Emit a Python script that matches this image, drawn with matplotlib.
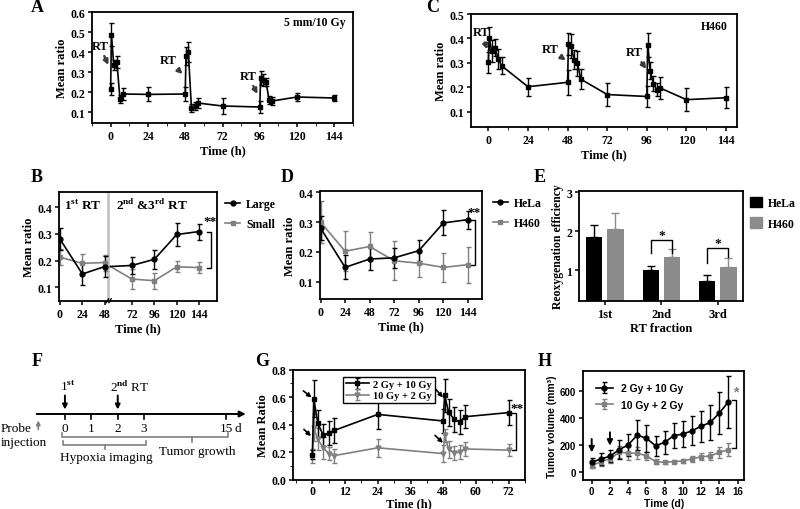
import matplotlib
matplotlib.use("Agg")
import matplotlib.pyplot as plt
from matplotlib.lines import Line2D
from matplotlib.patches import Patch
from matplotlib.ticker import MultipleLocator

plt.rcParams["font.family"] = ["Liberation Serif", "DejaVu Serif"]
plt.rcParams["font.weight"] = "bold"
plt.rcParams["axes.labelweight"] = "bold"
plt.rcParams["font.size"] = 8
plt.rcParams["xtick.labelsize"] = 8.5
plt.rcParams["ytick.labelsize"] = 8.5
plt.rcParams["axes.linewidth"] = 1.3
plt.rcParams["xtick.major.width"] = 1.1
plt.rcParams["ytick.major.width"] = 1.1
plt.rcParams["xtick.major.size"] = 3
plt.rcParams["ytick.major.size"] = 3
plt.rcParams["xtick.major.pad"] = 2
plt.rcParams["ytick.major.pad"] = 2
plt.rcParams["axes.labelpad"] = 2
plt.rcParams["mathtext.fontset"] = "custom"
plt.rcParams["mathtext.rm"] = "Liberation Serif"
plt.rcParams["mathtext.bf"] = "Liberation Serif:bold"

GRAY = "#808080"

# ---------------------------------------------------------------------------
# Data
# ---------------------------------------------------------------------------

# A: HeLa 5 mm / 10 Gy
a_time = [0, 0.5, 2, 4, 6, 8, 24, 48, 48.5, 50, 52, 54, 56, 72,
          96, 96.5, 98, 100, 102, 104, 120, 144]
a_mean = [0.215, 0.487, 0.333, 0.35, 0.167, 0.19, 0.188, 0.19, 0.38, 0.40,
          0.122, 0.13, 0.145, 0.13, 0.125, 0.268, 0.258, 0.25, 0.16, 0.155,
          0.175, 0.17]
a_err = [0.03, 0.058, 0.025, 0.03, 0.02, 0.03, 0.035, 0.035, 0.045, 0.05,
         0.02, 0.02, 0.025, 0.04, 0.03, 0.035, 0.03, 0.02, 0.02, 0.02,
         0.018, 0.015]

# C: H460
c_time = a_time
c_mean = [0.302, 0.40, 0.35, 0.362, 0.316, 0.288, 0.202, 0.22, 0.376, 0.37,
          0.313, 0.298, 0.233, 0.17, 0.162, 0.373, 0.268, 0.215, 0.19, 0.197,
          0.149, 0.157]
c_err = [0.042, 0.047, 0.045, 0.035, 0.04, 0.035, 0.037, 0.05, 0.045, 0.05,
         0.04, 0.05, 0.04, 0.046, 0.045, 0.048, 0.036, 0.03, 0.028, 0.045,
         0.047, 0.042]

# B: large vs small tumors, axis broken after 48 h
b_time1 = [0, 24, 48]
b_time2 = [72, 96, 120, 144]
b_large1 = [0.281, 0.15, 0.178]
b_large1_err = [0.042, 0.04, 0.038]
b_large2 = [0.182, 0.205, 0.298, 0.309]
b_large2_err = [0.032, 0.035, 0.042, 0.03]
b_small1 = [0.213, 0.19, 0.193]
b_small1_err = [0.03, 0.035, 0.03]
b_small2 = [0.131, 0.125, 0.177, 0.174]
b_small2_err = [0.037, 0.03, 0.02, 0.02]
b_restart = 0.178  # value where the 2nd/3rd RT segment starts

# D: HeLa vs H460
d_time = [0, 24, 48, 72, 96, 120, 144]
d_hela = [0.28, 0.148, 0.176, 0.18, 0.204, 0.297, 0.308]
d_hela_err = [0.04, 0.04, 0.038, 0.033, 0.035, 0.042, 0.03]
d_h460 = [0.30, 0.202, 0.218, 0.17, 0.162, 0.148, 0.157]
d_h460_err = [0.07, 0.067, 0.047, 0.065, 0.045, 0.048, 0.06]

# E: reoxygenation efficiency
e_fraction = ["1st", "2nd", "3rd"]
e_hela = [1.84, 1.01, 0.71]
e_hela_err = [0.33, 0.10, 0.16]
e_h460 = [2.05, 1.34, 1.09]
e_h460_err = [0.43, 0.20, 0.23]

# F: schedule
f_days = ["0", "1", "2", "3", "15"]
f_pos = [0, 1, 2, 3, 6.1]

# G: dose order
g_time = [0, 0.5, 2, 4, 6, 8, 24, 48, 48.5, 50, 52, 54, 56, 72]
g_2_10 = [0.183, 0.59, 0.41, 0.322, 0.34, 0.358, 0.475, 0.427, 0.615, 0.49,
          0.44, 0.42, 0.458, 0.488]
g_2_10_err = [0.03, 0.135, 0.1, 0.08, 0.09, 0.09, 0.105, 0.09, 0.12, 0.1,
              0.09, 0.09, 0.085, 0.09]
g_10_2 = [0.172, 0.378, 0.293, 0.232, 0.19, 0.175, 0.232, 0.19, 0.322, 0.22,
          0.195, 0.2, 0.224, 0.215]
g_10_2_err = [0.05, 0.1, 0.08, 0.08, 0.05, 0.05, 0.065, 0.06, 0.05, 0.06,
              0.05, 0.05, 0.05, 0.045]

# H: tumor growth
h_day = list(range(16))
h_2_10 = [70, 95, 115, 164, 200, 274, 249, 194, 219, 269, 281, 306, 339, 368,
          438, 523]
h_2_10_err = [35, 45, 45, 70, 80, 110, 100, 75, 85, 95, 100, 110, 115, 130,
              155, 195]
h_10_2 = [45, 75, 95, 144, 140, 137, 120, 75, 70, 75, 80, 95, 112, 117, 145,
          164]
h_10_2_err = [15, 30, 30, 45, 50, 45, 30, 20, 10, 10, 12, 20, 25, 30, 40, 50]

# ---------------------------------------------------------------------------

W, H = 800, 510
fig = plt.figure(figsize=(8, 5.1), dpi=100)


def box(l, t, r, b):
    return [l / W, 1 - b / H, (r - l) / W, (b - t) / H]


def ebar(ax, x, y, e, color, marker, ms, **kw):
    return ax.errorbar(x, y, yerr=e, color=color, marker=marker, ms=ms,
                       lw=1.2, elinewidth=1.0, capsize=1.8, capthick=1.0, **kw)


def bracket(ax, x, y1, y2, arm, color, star, sx, sy):
    ax.plot([x - arm, x, x, x - arm], [y1, y1, y2, y2], color=color, lw=1.0,
            clip_on=False)
    ax.text(sx, sy, star, color=color, ha="center", va="center", fontsize=9.5)


def rt_arrow(ax, text_xy, tip_xy):
    ax.annotate("RT", xy=tip_xy, xytext=text_xy, ha="center", va="center",
                fontsize=9,
                arrowprops=dict(arrowstyle="-|>", color="#3a3a3a", lw=1.7,
                                mutation_scale=7, shrinkA=1, shrinkB=0))


def side_legend(ax, handles, labels, x, **kw):
    ax.legend(handles=handles, labels=labels, loc="upper left",
              bbox_to_anchor=(x, 0.95), frameon=False, borderpad=0,
              borderaxespad=0, fontsize=8.5, labelspacing=0.7,
              handletextpad=0.5, **kw)


# ---- A --------------------------------------------------------------------
ax = fig.add_axes(box(92, 13, 353, 124))
ebar(ax, a_time, a_mean, a_err, "black", "s", 2.5)
ax.set_xlim(-12, 156)
ax.set_ylim(0.045, 0.6)
ax.set_xticks(range(0, 145, 24))
ax.xaxis.set_minor_locator(MultipleLocator(12))
ax.set_yticks([0.1, 0.2, 0.3, 0.4, 0.5, 0.6])
ax.set_xlabel("Time (h)", fontsize=9)
ax.set_ylabel("Mean ratio", fontsize=9)
ax.text(0.97, 0.88, "5 mm/10 Gy", transform=ax.transAxes, ha="right",
        fontsize=8.5)
rt_arrow(ax, (-7, 0.43), (-1.5, 0.335))
rt_arrow(ax, (37, 0.36), (46.3, 0.29))
rt_arrow(ax, (88.5, 0.28), (94.5, 0.19))

# ---- C --------------------------------------------------------------------
ax = fig.add_axes(box(471, 15, 737, 128))
ebar(ax, c_time, c_mean, c_err, "black", "s", 2.5)
ax.set_xlim(-10.5, 150.6)
ax.set_ylim(0.037, 0.5)
ax.set_xticks(range(0, 145, 24))
ax.xaxis.set_minor_locator(MultipleLocator(12))
ax.set_yticks([0.1, 0.2, 0.3, 0.4, 0.5])
ax.set_xlabel("Time (h)", fontsize=9)
ax.set_ylabel("Mean ratio", fontsize=9)
ax.text(0.965, 0.87, "H460", transform=ax.transAxes, ha="right", fontsize=8.5)
rt_arrow(ax, (-4.4, 0.425), (-0.6, 0.355))
rt_arrow(ax, (37.4, 0.357), (46.9, 0.31))
rt_arrow(ax, (88.5, 0.343), (95.6, 0.275))

# ---- B --------------------------------------------------------------------
ax = fig.add_axes(box(59, 193.3, 217, 301.7))
shift = 5
x1 = b_time1
x2 = [t + shift for t in b_time2]
x_restart = 48 + shift + 1
ax.axvspan(50.0, x_restart, color="#c8c8c8", lw=0, zorder=0)
ebar(ax, x1, b_small1, b_small1_err, GRAY, "s", 3.5)
ebar(ax, x1, b_large1, b_large1_err, "black", "o", 3.5)
ax.plot([x_restart] + x2[:1], [b_restart, b_small2[0]], color=GRAY, lw=1.2)
ax.plot([x_restart] + x2[:1], [b_restart, b_large2[0]], color="black", lw=1.2)
ebar(ax, x2, b_small2, b_small2_err, GRAY, "s", 3.5)
ebar(ax, x2, b_large2, b_large2_err, "black", "o", 3.5)
ax.set_xlim(-1, 168)
ax.set_ylim(0.05, 0.456)
ax.set_xticks(x1 + x2)
ax.set_xticklabels([str(t) for t in b_time1 + b_time2])
ax.set_yticks([0.1, 0.2, 0.3, 0.4])
ax.set_xlabel("Time (h)", fontsize=9)
ax.set_ylabel("Mean ratio", fontsize=9)
for xs in (50.8, 53.6):
    ax.plot([xs - 1.2, xs + 1.2], [0.043, 0.057], color="black", lw=1.0,
            clip_on=False)
ax.text(4, 0.41, "1$^{\\mathbf{st}}$ RT", fontsize=9.5, va="center")
ax.text(60, 0.41, "2$^{\\mathbf{nd}}$ &3$^{\\mathbf{rd}}$ RT", fontsize=9.5,
        va="center")
bracket(ax, 162, b_large2[-1], b_small2[-1], 5, "black", "**", 161, 0.35)
side_legend(ax, [Line2D([], [], color="black", marker="o", ms=3.5, lw=1.2),
                 Line2D([], [], color=GRAY, marker="s", ms=3.5, lw=1.2)],
            ["Large", "Small"], 1.05, handlelength=1.3)

# ---- D --------------------------------------------------------------------
ax = fig.add_axes(box(320, 192.3, 482.3, 300))
ebar(ax, d_time, d_h460, d_h460_err, GRAY, "s", 3.5)
ebar(ax, d_time, d_hela, d_hela_err, "black", "o", 3.5)
ax.set_xlim(-0.5, 158)
ax.set_ylim(0.042, 0.403)
ax.set_xticks(d_time)
ax.set_yticks([0.1, 0.2, 0.3, 0.4])
ax.set_xlabel("Time (h)", fontsize=9)
ax.set_ylabel("Mean ratio", fontsize=9)
bracket(ax, 151, d_hela[-1], d_h460[-1], 5.5, "black", "**", 149.5, 0.335)
side_legend(ax, [Line2D([], [], color="black", marker="o", ms=3.5, lw=1.2),
                 Line2D([], [], color=GRAY, marker="s", ms=3.5, lw=1.2)],
            ["HeLa", "H460"], 1.064, handlelength=1.3)

# ---- E --------------------------------------------------------------------
ax = fig.add_axes(box(579.3, 192.3, 742.7, 301.7))
grp = list(range(len(e_fraction)))
off, bw = 0.188, 0.288
xh = [g - off for g in grp]
xg = [g + off for g in grp]
ax.bar(xh, e_hela, bw, color="black",
       yerr=[[0] * 3, e_hela_err], error_kw=dict(ecolor="black", lw=1.0,
                                                  capsize=3, capthick=1.0))
ax.bar(xg, e_h460, bw, color="#8c8c8c",
       yerr=[[0] * 3, e_h460_err], error_kw=dict(ecolor="#8c8c8c", lw=1.0,
                                                  capsize=3, capthick=1.0))
ax.set_xlim(-0.45, 2.44)
ax.set_ylim(0.21, 3.03)
ax.set_xticks(grp)
ax.set_xticklabels(e_fraction, fontsize=9)
ax.set_yticks([1, 2, 3])
ax.set_xlabel("RT fraction", fontsize=9)
ax.set_ylabel("Reoxygenation efficiency", fontsize=8.5)
for i, (top, lo_l, lo_r) in zip([1, 2], [(1.77, 1.45, 1.45),
                                           (1.56, 1.19, 1.34)]):
    ax.plot([xh[i], xh[i], xg[i], xg[i]], [lo_l, top, top, lo_r],
            color="black", lw=1.0)
    ax.text(grp[i], top + 0.13, "*", ha="center", va="center", fontsize=9.5)
side_legend(ax, [Patch(color="black"), Patch(color="#8c8c8c")],
            ["HeLa", "H460"], 1.045, handlelength=1.0, handleheight=1.0)

# ---- F --------------------------------------------------------------------
ax = fig.add_axes(box(0, 370, 260, 475))
ax.set_xlim(-2.46, 7.39)
ax.set_ylim(1.05, 0)
ax.axis("off")
ax.annotate("", xy=(6.85, 0.45), xytext=(-1.07, 0.45),
            arrowprops=dict(arrowstyle="-|>", lw=1.4, color="black",
                            mutation_scale=9, shrinkA=0, shrinkB=0))
for p, lab in zip(f_pos, f_days):
    ax.plot([p, p], [0.45, 0.495], color="black", lw=1.2)
    ax.text(p, 0.59, lab, ha="center", va="center", fontsize=9.5,
            fontweight="normal")
ax.text(f_pos[-1] + 0.45, 0.59, "d", ha="center", va="center", fontsize=9.5,
        fontweight="normal")
for p in (f_pos[0], f_pos[2]):
    ax.annotate("", xy=(p, 0.405), xytext=(p, 0.265),
                arrowprops=dict(arrowstyle="-|>", lw=1.4, color="black",
                                mutation_scale=7, shrinkA=0, shrinkB=0))
ax.text(0.09, 0.17, "1$^{\\mathrm{st}}$", ha="center", va="center",
        fontsize=9.5, fontweight="normal")
ax.text(2.46, 0.17, "2$^{\\mathrm{nd}}$ RT", ha="center", va="center",
        fontsize=9.5, fontweight="normal")
ax.text(-2.42, 0.59, "Probe", ha="left", va="center", fontsize=9.5,
        fontweight="normal")
ax.text(-2.42, 0.735, "injection", ha="left", va="center", fontsize=9.5,
        fontweight="normal")
ax.annotate("", xy=(-1.01, 0.515), xytext=(-1.01, 0.605),
            arrowprops=dict(arrowstyle="-|>", lw=1.2, color=GRAY,
                            mutation_scale=6, shrinkA=0, shrinkB=0))
# brackets
ax.plot([-0.08, -0.08, 3.09, 3.09], [0.715, 0.76, 0.76, 0.715], color=GRAY,
        lw=1.2)
ax.plot([1.52, 1.52], [0.76, 0.795], color=GRAY, lw=1.2)
ax.text(1.55, 0.885, "Hypoxia imaging", ha="center", va="center",
        fontsize=9.5, fontweight="normal")
ax.plot([-0.125, -0.125, 6.19, 6.19], [0.64, 0.683, 0.683, 0.64], color=GRAY,
        lw=1.2)
ax.plot([4.8, 4.8], [0.683, 0.725], color=GRAY, lw=1.2)
ax.text(5.0, 0.817, "Tumor growth", ha="center", va="center", fontsize=9.5,
        fontweight="normal")

# ---- G --------------------------------------------------------------------
ax = fig.add_axes(box(293.3, 370.7, 525, 480.7))
ebar(ax, g_time, g_10_2, g_10_2_err, GRAY, "v", 3.5, label="10 Gy + 2 Gy")
ebar(ax, g_time, g_2_10, g_2_10_err, "black", "s", 3.5, label="2 Gy + 10 Gy")
ax.set_xlim(-7, 78)
ax.set_ylim(0, 0.8)
ax.set_xticks(range(0, 73, 12))
ax.xaxis.set_minor_locator(MultipleLocator(6))
ax.set_yticks([0.0, 0.2, 0.4, 0.6, 0.8])
ax.yaxis.set_minor_locator(MultipleLocator(0.1))
ax.tick_params(axis="x", pad=1)
ax.set_xlabel("Time (h)", fontsize=9, labelpad=0)
ax.set_ylabel("Mean Ratio", fontsize=9)
for (tx, ty), (hx, hy) in [((-3.3, 0.646), (-0.3, 0.598)),
                           ((-3.1, 0.366), (-0.5, 0.317)),
                           ((45.0, 0.663), (47.9, 0.598)),
                           ((45.0, 0.322), (47.9, 0.268))]:
    ax.annotate("", xy=(hx, hy), xytext=(tx, ty),
                arrowprops=dict(arrowstyle="-|>", lw=1.2, color="black",
                                mutation_scale=6, shrinkA=0, shrinkB=0))
bracket(ax, 74.8, g_2_10[-1], g_10_2[-1], 1.6, "black", "**", 75.2, 0.52)
hnd, lbl = ax.get_legend_handles_labels()
leg = ax.legend(hnd[::-1], lbl[::-1], loc="upper left",
                bbox_to_anchor=(0.19, 0.985), fancybox=False,
                edgecolor="black", framealpha=1, fontsize=7.5,
                handlelength=2.2, borderpad=0.3, labelspacing=0.2,
                handletextpad=0.4)
leg.get_frame().set_linewidth(1.0)

# ---- H --------------------------------------------------------------------
SANS = "Liberation Sans"
ax = fig.add_axes(box(583.3, 371.7, 744, 481))
ebar(ax, h_day, h_10_2, h_10_2_err, GRAY, "s", 3.5, label="10 Gy + 2 Gy")
ebar(ax, h_day, h_2_10, h_2_10_err, "black", "o", 3.5, label="2 Gy + 10 Gy")
ax.set_xlim(-0.92, 16.7)
ax.set_ylim(-62, 754)
ax.set_xticks(range(0, 17, 2))
ax.set_yticks([0, 200, 400, 600])
for t in ax.get_xticklabels() + ax.get_yticklabels():
    t.set_fontfamily(SANS)
    t.set_fontsize(7)
ax.tick_params(axis="x", pad=1.5)
ax.set_xlabel("Time (d)", fontsize=7.5, fontfamily=SANS, labelpad=1)
ax.set_ylabel("Tumor volume (mm³)", fontsize=7.5, fontfamily=SANS)
for d, top, bot in [(0, 244, 144), (2, 294, 194)]:
    ax.annotate("", xy=(d, bot), xytext=(d, top),
                arrowprops=dict(arrowstyle="-|>", lw=1.4, color="black",
                                mutation_scale=8, shrinkA=0, shrinkB=0))
ax.plot([15.4, 15.8, 15.8, 15.4], [h_2_10[-1] + 15, h_2_10[-1] + 15,
                                   h_10_2[-1] + 10, h_10_2[-1] + 10],
        color="black", lw=1.0, clip_on=False)
ax.text(15.75, 600, "*", color=GRAY, ha="center", va="center", fontsize=10,
        fontfamily=SANS)
hnd, lbl = ax.get_legend_handles_labels()
ax.legend(hnd[::-1], lbl[::-1], loc="upper left", bbox_to_anchor=(0.02, 0.97),
          frameon=False, prop=dict(family=SANS, weight="bold", size=7.5),
          handlelength=1.6, labelspacing=0.6)

# ---- panel letters --------------------------------------------------------
for lab, px, py in [("A", 37, 8), ("C", 433, 7), ("B", 37, 178),
                    ("D", 287, 178), ("E", 540, 178), ("F", 37, 362),
                    ("G", 262, 362), ("H", 545, 362)]:
    fig.text(px / W, 1 - py / H, lab, fontsize=13, ha="center", va="center")

fig.savefig("out.png", dpi=100)
